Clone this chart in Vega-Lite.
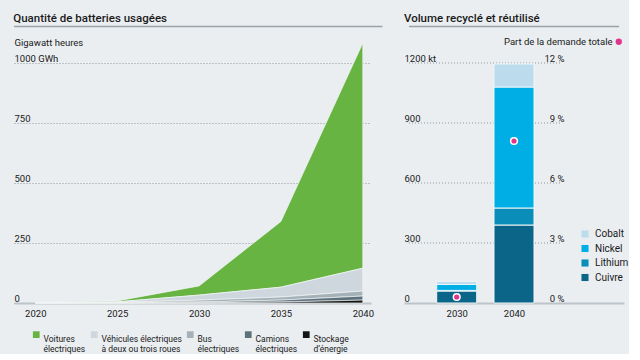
{
  "$schema": "https://vega.github.io/schema/vega-lite/v6.json",
  "background": "#eaeef1",
  "padding": {"left": 13, "top": 13, "right": 0, "bottom": 0},
  "spacing": 33,
  "bounds": "flush",
  "resolve": {"scale": {"color": "independent", "fill": "independent"}, "legend": {"color": "independent", "fill": "independent"}},
  "config": {
    "view": {"stroke": null},
    "font": "Roboto",
    "title": {"anchor": "start", "fontSize": 11.5, "fontWeight": 500, "color": "#1a1a1a", "offset": 0, "dy": 3, "font": "Roboto"},
    "axis": {"labelFont": "Roboto", "labelFontSize": 9.5, "labelColor": "#1a1a1a", "titleFont": "Roboto", "titleFontSize": 9.5, "titleFontWeight": "normal", "titleColor": "#1a1a1a", "ticks": false, "labelFlush": false},
    "legend": {"labelFont": "Roboto", "labelFontSize": 8.5, "labelColor": "#1a1a1a", "titleFont": "Roboto"}
  },
  "hconcat": [
    {
      "width": 357,
      "height": 240,
      "title": {"text": "Quantité de batteries usagées"},
      "layer": [
        {
          "data": {"values": [
            {"annee": 2020, "type": "Voitures électriques", "ordre": 5, "gwh": 0.5},
            {"annee": 2020, "type": "Véhicules électriques à deux ou trois roues", "ordre": 4, "gwh": 1},
            {"annee": 2020, "type": "Bus électriques", "ordre": 3, "gwh": 0.5},
            {"annee": 2020, "type": "Camions électriques", "ordre": 2, "gwh": 0.2},
            {"annee": 2020, "type": "Stockage d’énergie", "ordre": 1, "gwh": 0.1},
            {"annee": 2025, "type": "Voitures électriques", "ordre": 5, "gwh": 4},
            {"annee": 2025, "type": "Véhicules électriques à deux ou trois roues", "ordre": 4, "gwh": 2.5},
            {"annee": 2025, "type": "Bus électriques", "ordre": 3, "gwh": 1.5},
            {"annee": 2025, "type": "Camions électriques", "ordre": 2, "gwh": 0.5},
            {"annee": 2025, "type": "Stockage d’énergie", "ordre": 1, "gwh": 0.3},
            {"annee": 2030, "type": "Voitures électriques", "ordre": 5, "gwh": 38},
            {"annee": 2030, "type": "Véhicules électriques à deux ou trois roues", "ordre": 4, "gwh": 21},
            {"annee": 2030, "type": "Bus électriques", "ordre": 3, "gwh": 8},
            {"annee": 2030, "type": "Camions électriques", "ordre": 2, "gwh": 3},
            {"annee": 2030, "type": "Stockage d’énergie", "ordre": 1, "gwh": 1},
            {"annee": 2035, "type": "Voitures électriques", "ordre": 5, "gwh": 274},
            {"annee": 2035, "type": "Véhicules électriques à deux ou trois roues", "ordre": 4, "gwh": 41},
            {"annee": 2035, "type": "Bus électriques", "ordre": 3, "gwh": 13},
            {"annee": 2035, "type": "Camions électriques", "ordre": 2, "gwh": 8},
            {"annee": 2035, "type": "Stockage d’énergie", "ordre": 1, "gwh": 4},
            {"annee": 2040, "type": "Voitures électriques", "ordre": 5, "gwh": 938},
            {"annee": 2040, "type": "Véhicules électriques à deux ou trois roues", "ordre": 4, "gwh": 95},
            {"annee": 2040, "type": "Bus électriques", "ordre": 3, "gwh": 21},
            {"annee": 2040, "type": "Camions électriques", "ordre": 2, "gwh": 17},
            {"annee": 2040, "type": "Stockage d’énergie", "ordre": 1, "gwh": 12}
          ]},
          "mark": {"type": "area", "stroke": "#f4f6f7", "strokeWidth": 0.7},
          "encoding": {
            "x": {"field": "annee", "type": "quantitative",
              "scale": {"domain": [2018.7, 2040.5], "nice": false, "zero": false},
              "axis": {"values": [2020, 2025, 2030, 2035, 2040], "format": "d", "title": null, "grid": false, "domainColor": "#bcc4c9", "domainWidth": 2, "labelPadding": 5}},
            "y": {"field": "gwh", "type": "quantitative", "stack": "zero",
              "scale": {"domain": [0, 1000], "nice": false},
              "axis": {"values": [0, 250, 500, 750, 1000], "title": "Gigawatt heures", "titleAngle": 0, "titleAlign": "left", "titleBaseline": "alphabetic", "titleX": 0, "titleY": -18,
                "labelAlign": "left", "labelPadding": 0, "labelBaseline": "alphabetic", "labelOffset": -2, "domain": false, "grid": true, "gridDash": [1, 2], "gridColor": "#8e979d", "gridWidth": 1,
                "labelExpr": "datum.value == 1000 ? '1000 GWh' : datum.label"}},
            "order": {"field": "ordre", "type": "quantitative", "sort": "ascending"},
            "color": {"field": "type", "type": "nominal",
              "scale": {"domain": ["Voitures électriques", "Véhicules électriques à deux ou trois roues", "Bus électriques", "Camions électriques", "Stockage d’énergie"],
                "range": ["#67b443", "#cfd7de", "#a5b1b9", "#5d717c", "#141414"]},
              "legend": {"title": null, "orient": "none", "direction": "horizontal", "legendX": 18, "legendY": 267,
                "symbolType": "square", "symbolSize": 45, "symbolStrokeWidth": 0, "labelOffset": 3, "columnPadding": 4, "labelBaseline": "top", "labelLineHeight": 10,
                "labelExpr": "datum.label == 'Véhicules électriques à deux ou trois roues' ? ['Véhicules électriques', 'à deux ou trois roues'] : [slice(datum.label, 0, indexof(datum.label, ' ')), slice(datum.label, indexof(datum.label, ' ') + 1)]"}}
          }
        },
        {
          "data": {"values": [{}]},
          "mark": {"type": "rule", "color": "#9aa2a8", "strokeWidth": 1.5},
          "encoding": {
            "y": {"datum": 1152},
            "x": {"datum": 2018.7},
            "x2": {"datum": 2041.2}
          }
        }
      ]
    },
    {
      "width": 220,
      "height": 240,
      "title": {"text": "Volume recyclé et réutilisé"},
      "layer": [
        {
          "layer": [
            {
              "data": {"values": [{"kt": 300}, {"kt": 600}, {"kt": 900}, {"kt": 1200}]},
              "mark": {"type": "rule", "color": "#8e979d", "strokeWidth": 1, "strokeDash": [1, 2]},
              "encoding": {
                "y": {"field": "kt", "type": "quantitative"},
                "x": {"datum": 2021.67},
                "x2": {"datum": 2048.33}
              }
            },
            {
              "data": {"values": [
                {"annee": 2030, "metal": "Cuivre", "ordre": 1, "kt": 60},
                {"annee": 2030, "metal": "Lithium", "ordre": 2, "kt": 3},
                {"annee": 2030, "metal": "Nickel", "ordre": 3, "kt": 30},
                {"annee": 2030, "metal": "Cobalt", "ordre": 4, "kt": 15},
                {"annee": 2040, "metal": "Cuivre", "ordre": 1, "kt": 390},
                {"annee": 2040, "metal": "Lithium", "ordre": 2, "kt": 85},
                {"annee": 2040, "metal": "Nickel", "ordre": 3, "kt": 605},
                {"annee": 2040, "metal": "Cobalt", "ordre": 4, "kt": 115}
              ]},
              "mark": {"type": "bar", "width": 40, "stroke": "#eef6fa", "strokeWidth": 1},
              "encoding": {
                "x": {"field": "annee", "type": "quantitative",
                  "scale": {"domain": [2021.67, 2058.33], "nice": false, "zero": false},
                  "axis": {"values": [2030, 2040], "format": "d", "title": null, "grid": false, "domainColor": "#bcc4c9", "domainWidth": 2, "labelPadding": 5}},
                "y": {"field": "kt", "type": "quantitative", "stack": "zero",
                  "scale": {"domain": [0, 1200], "nice": false},
                  "axis": {"values": [0, 300, 600, 900, 1200], "title": null, "labelAlign": "left", "labelPadding": 0, "labelBaseline": "alphabetic", "labelOffset": -2, "domain": false, "grid": false,
                    "labelExpr": "datum.value == 1200 ? '1200 kt' : datum.label"}},
                "order": {"field": "ordre", "type": "quantitative", "sort": "ascending"},
                "color": {"field": "metal", "type": "nominal",
                  "scale": {"domain": ["Cobalt", "Nickel", "Lithium", "Cuivre"], "range": ["#bcdcee", "#00aee6", "#0a8db8", "#0a6588"]},
                  "legend": {"title": null, "orient": "none", "legendX": 176, "legendY": 166,
                    "symbolType": "square", "symbolSize": 50, "symbolStrokeWidth": 0, "labelOffset": 5, "labelFontSize": 10, "rowPadding": 4.5}}
              }
            },
            {
              "data": {"values": [{}]},
              "mark": {"type": "rule", "color": "#9aa2a8", "strokeWidth": 1.5},
              "encoding": {
                "y": {"datum": 1382},
                "x": {"datum": 2021.67},
                "x2": {"datum": 2058.33}
              }
            }
          ]
        },
        {
          "data": {"values": [
            {"annee": 2030, "part": 0.3},
            {"annee": 2040, "part": 8.1}
          ]},
          "mark": {"type": "point", "filled": true, "stroke": "#ffffff", "strokeWidth": 1.5, "size": 45, "opacity": 1},
          "encoding": {
            "x": {"field": "annee", "type": "quantitative"},
            "y": {"field": "part", "type": "quantitative",
              "scale": {"domain": [0, 12], "nice": false},
              "axis": {"orient": "right", "offset": -60, "values": [0, 3, 6, 9, 12], "title": null, "labelAlign": "right", "labelPadding": 0, "tickSize": 0, "labelBaseline": "alphabetic", "labelOffset": -2, "domain": false, "grid": false,
                "labelExpr": "datum.value + ' %'"}},
            "fill": {"datum": "Part de la demande totale", "type": "nominal",
              "scale": {"range": ["#e0358b"]},
              "legend": {"title": null, "orient": "none", "legendX": 210, "legendY": -26, "symbolType": "circle", "symbolSize": 40, "symbolStrokeWidth": 0, "labelAlign": "right", "labelOffset": -11, "labelFontSize": 9.5}}
          }
        }
      ],
      "resolve": {"scale": {"y": "independent"}}
    }
  ]
}
